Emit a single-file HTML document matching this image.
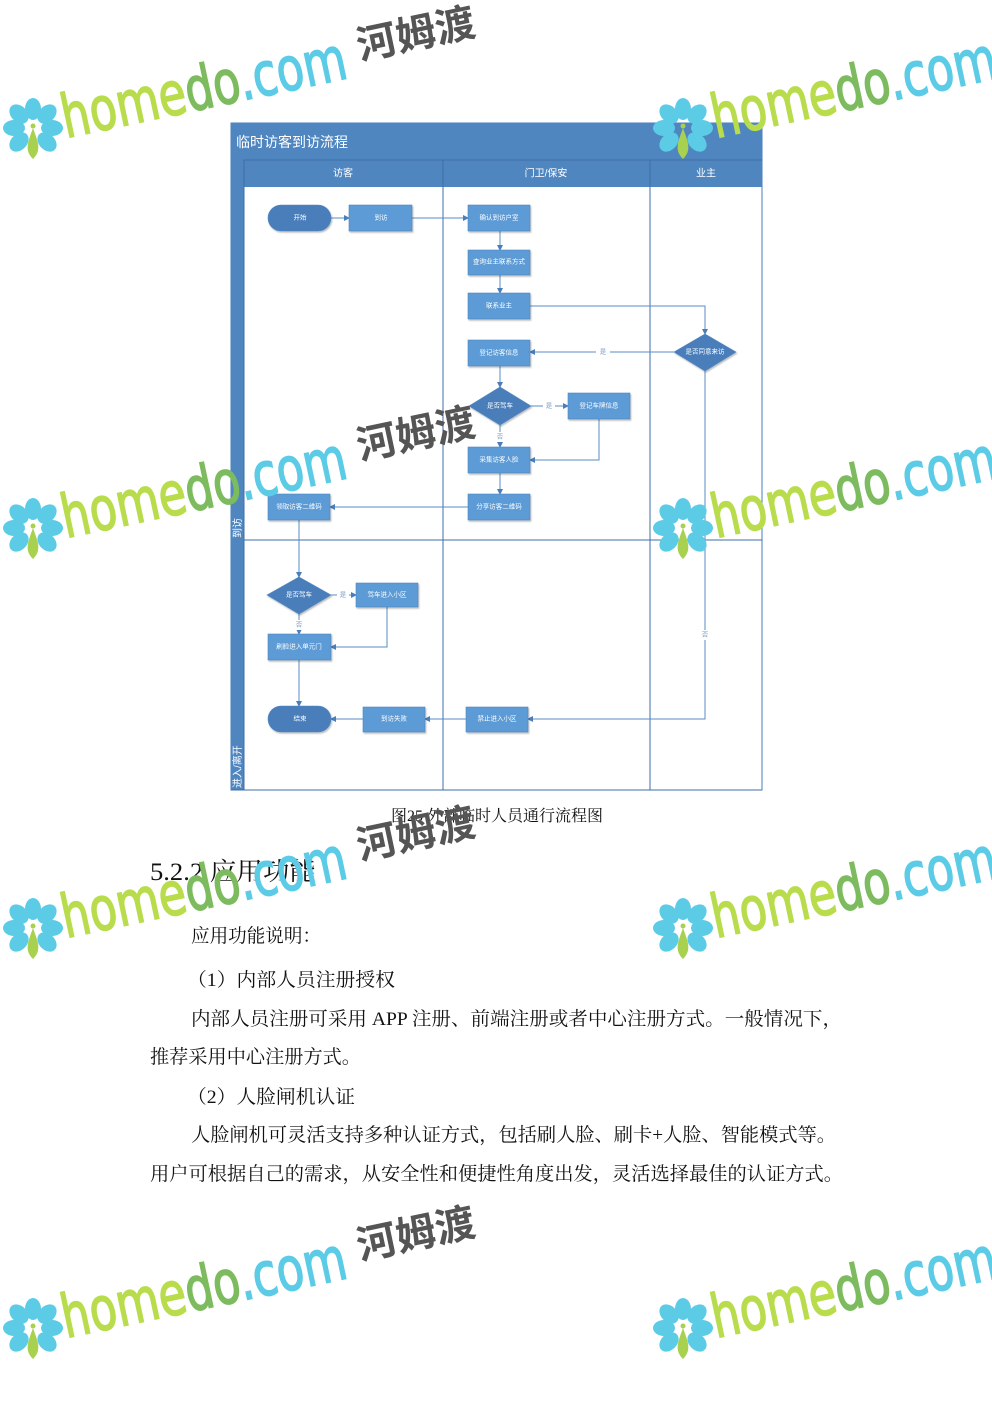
<!DOCTYPE html>
<html><head><meta charset="utf-8"><style>
html,body{margin:0;padding:0;background:#fff;}
svg{display:block}
.n{fill:#5b9bd5;stroke:#4f86c0;stroke-width:0.6}
.nt{fill:#fff;font-size:6.5px;font-family:"Liberation Sans","Noto Sans CJK SC",sans-serif;text-anchor:middle;dominant-baseline:central}
.c{fill:none;stroke:#5a8ec6;stroke-width:1}
.lb{fill:#7a9cc6;font-size:6.5px;font-family:"Liberation Sans","Noto Sans CJK SC",sans-serif;text-anchor:middle;dominant-baseline:central}
.p{font-family:"Liberation Serif","Noto Serif CJK SC",serif;font-size:19px;fill:#111}
.w1{fill:#b8dc4c;stroke:#b8dc4c;stroke-width:1.6}
.w2{fill:#7cbb5e;stroke:#7cbb5e;stroke-width:1.6}
.w3{fill:#5ccbe6;stroke:#5ccbe6;stroke-width:1.6}
</style></head><body>
<svg width="992" height="1403" viewBox="0 0 992 1403" xmlns="http://www.w3.org/2000/svg">
<defs>
<marker id="a" markerWidth="6" markerHeight="6" refX="5" refY="3" orient="auto" markerUnits="userSpaceOnUse"><path d="M0,0 L6,3 L0,6 z" fill="#4a7ebb"/></marker>
<filter id="sh" x="-10%" y="-10%" width="130%" height="140%"><feDropShadow dx="1" dy="1.5" stdDeviation="0.8" flood-color="#000" flood-opacity="0.25"/></filter>
</defs>

<rect x="231" y="123" width="531" height="667" fill="#fff" stroke="#4a7ebb" stroke-width="1"/>
<rect x="231" y="123" width="531" height="37" fill="#4f86c0"/>
<text x="236" y="147" font-family="Liberation Sans,'Noto Sans CJK SC',sans-serif" font-size="14" fill="#fff">临时访客到访流程</text>
<rect x="231" y="160" width="13" height="630" fill="#4f86c0"/>
<rect x="244" y="160" width="518" height="27" fill="#4f86c0"/>
<line x1="244" y1="160" x2="762" y2="160" stroke="#3f6fa5"/>
<line x1="244" y1="160" x2="244" y2="790" stroke="#3f6fa5"/>
<line x1="443" y1="160" x2="443" y2="790" stroke="#3f6fa5"/>
<line x1="650" y1="160" x2="650" y2="790" stroke="#3f6fa5"/>
<line x1="244" y1="540" x2="762" y2="540" stroke="#3f6fa5"/>
<line x1="231" y1="790" x2="762" y2="790" stroke="#3f6fa5"/>
<text x="343" y="174" class="nt" style="font-size:10px">访客</text>
<text x="546" y="174" class="nt" style="font-size:10px">门卫/保安</text>
<text x="706" y="174" class="nt" style="font-size:10px">业主</text>
<text transform="translate(241,538) rotate(-90)" font-size="10" fill="#fff" font-family="Liberation Sans,'Noto Sans CJK SC',sans-serif">到访</text>
<text transform="translate(241,788) rotate(-90)" font-size="10" fill="#fff" font-family="Liberation Sans,'Noto Sans CJK SC',sans-serif">进入/离开</text>

<g>
<path class="c" d="M331,218 H349" marker-end="url(#a)"/>
<path class="c" d="M412,218 H468" marker-end="url(#a)"/>
<path class="c" d="M500,231 V250" marker-end="url(#a)"/>
<path class="c" d="M500,275 V293" marker-end="url(#a)"/>
<path class="c" d="M530,306 H705 V334" marker-end="url(#a)"/>
<path class="c" d="M674,352 H530" marker-end="url(#a)"/>
<path class="c" d="M500,366 V387" marker-end="url(#a)"/>
<path class="c" d="M531,406 H568" marker-end="url(#a)"/>
<path class="c" d="M500,425 V447" marker-end="url(#a)"/>
<path class="c" d="M599,419 V460 H530" marker-end="url(#a)"/>
<path class="c" d="M500,473 V494" marker-end="url(#a)"/>
<path class="c" d="M468,507 H330" marker-end="url(#a)"/>
<path class="c" d="M299,520 V577" marker-end="url(#a)"/>
<path class="c" d="M331,595 H356" marker-end="url(#a)"/>
<path class="c" d="M299,614 V634" marker-end="url(#a)"/>
<path class="c" d="M387,607 V647 H331" marker-end="url(#a)"/>
<path class="c" d="M299,660 V706" marker-end="url(#a)"/>
<path class="c" d="M705,371 V719 H528" marker-end="url(#a)"/>
<path class="c" d="M466,719 H425" marker-end="url(#a)"/>
<path class="c" d="M363,719 H331" marker-end="url(#a)"/>
</g>
<g>
<rect x="596" y="347" width="14" height="10" fill="#fff"/><text x="603" y="352" class="lb">是</text>
<rect x="543" y="401" width="12" height="10" fill="#fff"/><text x="549" y="406" class="lb">是</text>
<rect x="494" y="432" width="12" height="10" fill="#fff"/><text x="500" y="437" class="lb">否</text>
<rect x="337" y="590" width="12" height="10" fill="#fff"/><text x="343" y="595" class="lb">是</text>
<rect x="293" y="620" width="12" height="10" fill="#fff"/><text x="299" y="625" class="lb">否</text>
<rect x="699" y="630" width="12" height="10" fill="#fff"/><text x="705" y="635" class="lb">否</text>
</g>

<g filter="url(#sh)">
<rect class="n" x="268" y="205" width="63" height="26" rx="13" style="fill:#4a7ebb"/>
<rect class="n" x="349" y="205" width="63" height="26"/>
<rect class="n" x="468" y="205" width="62" height="26"/>
<rect class="n" x="468" y="250" width="62" height="25"/>
<rect class="n" x="468" y="293" width="62" height="26"/>
<rect class="n" x="468" y="340" width="62" height="26"/>
<polygon class="n" points="500,387 531,406 500,425 469,406" style="fill:#4a7ebb"/>
<rect class="n" x="568" y="393" width="62" height="26"/>
<rect class="n" x="468" y="447" width="62" height="26"/>
<rect class="n" x="468" y="494" width="62" height="26"/>
<rect class="n" x="268" y="494" width="62" height="26"/>
<polygon class="n" points="705,334 736,352 705,371 674,352" style="fill:#4a7ebb"/>
<polygon class="n" points="299,577 331,595 299,614 267,595" style="fill:#4a7ebb"/>
<rect class="n" x="356" y="583" width="62" height="24"/>
<rect class="n" x="268" y="634" width="63" height="26"/>
<rect class="n" x="268" y="706" width="63" height="26" rx="13" style="fill:#4a7ebb"/>
<rect class="n" x="363" y="707" width="62" height="25"/>
<rect class="n" x="466" y="707" width="62" height="25"/>
</g>
<text x="300" y="218" class="nt">开始</text>
<text x="381" y="218" class="nt">到访</text>
<text x="499" y="218" class="nt">确认到访户室</text>
<text x="499" y="262" class="nt">查询业主联系方式</text>
<text x="499" y="306" class="nt">联系业主</text>
<text x="499" y="353" class="nt">登记访客信息</text>
<text x="500" y="406" class="nt">是否驾车</text>
<text x="599" y="406" class="nt">登记车牌信息</text>
<text x="499" y="460" class="nt">采集访客人脸</text>
<text x="499" y="507" class="nt">分享访客二维码</text>
<text x="299" y="507" class="nt">领取访客二维码</text>
<text x="705" y="352" class="nt">是否同意来访</text>
<text x="299" y="595" class="nt">是否驾车</text>
<text x="387" y="595" class="nt">驾车进入小区</text>
<text x="299" y="647" class="nt">刷脸进入单元门</text>
<text x="300" y="719" class="nt">结束</text>
<text x="394" y="719" class="nt">到访失败</text>
<text x="497" y="719" class="nt">禁止进入小区</text>

<text x="497" y="821" class="p" style="font-size:16px" text-anchor="middle">图25 外部临时人员通行流程图</text>
<text x="150" y="880" class="p" style="font-size:25px" textLength="166" lengthAdjust="spacingAndGlyphs">5.2.2 应用功能</text>
<text x="191" y="942" class="p" textLength="130" lengthAdjust="spacingAndGlyphs">应用功能说明：</text>
<text x="187" y="986" class="p" textLength="208" lengthAdjust="spacingAndGlyphs">（1）内部人员注册授权</text>
<text x="191" y="1025" class="p" textLength="651" lengthAdjust="spacingAndGlyphs">内部人员注册可采用 APP 注册、前端注册或者中心注册方式。一般情况下，</text>
<text x="150" y="1063" class="p" textLength="211" lengthAdjust="spacingAndGlyphs">推荐采用中心注册方式。</text>
<text x="187" y="1103" class="p" textLength="168" lengthAdjust="spacingAndGlyphs">（2）人脸闸机认证</text>
<text x="191" y="1141" class="p" textLength="645" lengthAdjust="spacingAndGlyphs">人脸闸机可灵活支持多种认证方式，包括刷人脸、刷卡+人脸、智能模式等。</text>
<text x="150" y="1180" class="p" textLength="693" lengthAdjust="spacingAndGlyphs">用户可根据自己的需求，从安全性和便捷性角度出发，灵活选择最佳的认证方式。</text>

<g transform="translate(0,0)"><g fill="#5ccbe6"><ellipse cx="33" cy="109" rx="8" ry="11"/><ellipse cx="47" cy="114" rx="8" ry="11" transform="rotate(45 47 114)"/><ellipse cx="52" cy="128" rx="11" ry="8"/><ellipse cx="47" cy="142" rx="8" ry="11" transform="rotate(-45 47 142)"/><ellipse cx="19" cy="142" rx="8" ry="11" transform="rotate(45 19 142)"/><ellipse cx="14" cy="128" rx="11" ry="8"/><ellipse cx="19" cy="114" rx="8" ry="11" transform="rotate(-45 19 114)"/></g><path d="M33,128 C28,142 24,150 33,159 C42,150 38,142 33,128z" fill="#a8d14f"/><circle cx="33" cy="126" r="2.5" fill="#a8d14f"/><text x="66" y="138" transform="rotate(-12 66 138)" font-family="DejaVu Sans,sans-serif" font-size="60" textLength="290" lengthAdjust="spacingAndGlyphs"><tspan class="w1">home</tspan><tspan class="w2">do</tspan><tspan class="w3">.com</tspan></text><text x="360" y="60" transform="rotate(-12 360 60)" font-family="'Noto Sans CJK SC',sans-serif" font-weight="bold" font-size="40" fill="#555">河姆渡</text></g>
<g transform="translate(0,400)"><g fill="#5ccbe6"><ellipse cx="33" cy="109" rx="8" ry="11"/><ellipse cx="47" cy="114" rx="8" ry="11" transform="rotate(45 47 114)"/><ellipse cx="52" cy="128" rx="11" ry="8"/><ellipse cx="47" cy="142" rx="8" ry="11" transform="rotate(-45 47 142)"/><ellipse cx="19" cy="142" rx="8" ry="11" transform="rotate(45 19 142)"/><ellipse cx="14" cy="128" rx="11" ry="8"/><ellipse cx="19" cy="114" rx="8" ry="11" transform="rotate(-45 19 114)"/></g><path d="M33,128 C28,142 24,150 33,159 C42,150 38,142 33,128z" fill="#a8d14f"/><circle cx="33" cy="126" r="2.5" fill="#a8d14f"/><text x="66" y="138" transform="rotate(-12 66 138)" font-family="DejaVu Sans,sans-serif" font-size="60" textLength="290" lengthAdjust="spacingAndGlyphs"><tspan class="w1">home</tspan><tspan class="w2">do</tspan><tspan class="w3">.com</tspan></text><text x="360" y="60" transform="rotate(-12 360 60)" font-family="'Noto Sans CJK SC',sans-serif" font-weight="bold" font-size="40" fill="#555">河姆渡</text></g>
<g transform="translate(0,800)"><g fill="#5ccbe6"><ellipse cx="33" cy="109" rx="8" ry="11"/><ellipse cx="47" cy="114" rx="8" ry="11" transform="rotate(45 47 114)"/><ellipse cx="52" cy="128" rx="11" ry="8"/><ellipse cx="47" cy="142" rx="8" ry="11" transform="rotate(-45 47 142)"/><ellipse cx="19" cy="142" rx="8" ry="11" transform="rotate(45 19 142)"/><ellipse cx="14" cy="128" rx="11" ry="8"/><ellipse cx="19" cy="114" rx="8" ry="11" transform="rotate(-45 19 114)"/></g><path d="M33,128 C28,142 24,150 33,159 C42,150 38,142 33,128z" fill="#a8d14f"/><circle cx="33" cy="126" r="2.5" fill="#a8d14f"/><text x="66" y="138" transform="rotate(-12 66 138)" font-family="DejaVu Sans,sans-serif" font-size="60" textLength="290" lengthAdjust="spacingAndGlyphs"><tspan class="w1">home</tspan><tspan class="w2">do</tspan><tspan class="w3">.com</tspan></text><text x="360" y="60" transform="rotate(-12 360 60)" font-family="'Noto Sans CJK SC',sans-serif" font-weight="bold" font-size="40" fill="#555">河姆渡</text></g>
<g transform="translate(0,1200)"><g fill="#5ccbe6"><ellipse cx="33" cy="109" rx="8" ry="11"/><ellipse cx="47" cy="114" rx="8" ry="11" transform="rotate(45 47 114)"/><ellipse cx="52" cy="128" rx="11" ry="8"/><ellipse cx="47" cy="142" rx="8" ry="11" transform="rotate(-45 47 142)"/><ellipse cx="19" cy="142" rx="8" ry="11" transform="rotate(45 19 142)"/><ellipse cx="14" cy="128" rx="11" ry="8"/><ellipse cx="19" cy="114" rx="8" ry="11" transform="rotate(-45 19 114)"/></g><path d="M33,128 C28,142 24,150 33,159 C42,150 38,142 33,128z" fill="#a8d14f"/><circle cx="33" cy="126" r="2.5" fill="#a8d14f"/><text x="66" y="138" transform="rotate(-12 66 138)" font-family="DejaVu Sans,sans-serif" font-size="60" textLength="290" lengthAdjust="spacingAndGlyphs"><tspan class="w1">home</tspan><tspan class="w2">do</tspan><tspan class="w3">.com</tspan></text><text x="360" y="60" transform="rotate(-12 360 60)" font-family="'Noto Sans CJK SC',sans-serif" font-weight="bold" font-size="40" fill="#555">河姆渡</text></g>
<g transform="translate(650,0)"><g fill="#5ccbe6"><ellipse cx="33" cy="109" rx="8" ry="11"/><ellipse cx="47" cy="114" rx="8" ry="11" transform="rotate(45 47 114)"/><ellipse cx="52" cy="128" rx="11" ry="8"/><ellipse cx="47" cy="142" rx="8" ry="11" transform="rotate(-45 47 142)"/><ellipse cx="19" cy="142" rx="8" ry="11" transform="rotate(45 19 142)"/><ellipse cx="14" cy="128" rx="11" ry="8"/><ellipse cx="19" cy="114" rx="8" ry="11" transform="rotate(-45 19 114)"/></g><path d="M33,128 C28,142 24,150 33,159 C42,150 38,142 33,128z" fill="#a8d14f"/><circle cx="33" cy="126" r="2.5" fill="#a8d14f"/><text x="66" y="138" transform="rotate(-12 66 138)" font-family="DejaVu Sans,sans-serif" font-size="60" textLength="290" lengthAdjust="spacingAndGlyphs"><tspan class="w1">home</tspan><tspan class="w2">do</tspan><tspan class="w3">.com</tspan></text></g>
<g transform="translate(650,400)"><g fill="#5ccbe6"><ellipse cx="33" cy="109" rx="8" ry="11"/><ellipse cx="47" cy="114" rx="8" ry="11" transform="rotate(45 47 114)"/><ellipse cx="52" cy="128" rx="11" ry="8"/><ellipse cx="47" cy="142" rx="8" ry="11" transform="rotate(-45 47 142)"/><ellipse cx="19" cy="142" rx="8" ry="11" transform="rotate(45 19 142)"/><ellipse cx="14" cy="128" rx="11" ry="8"/><ellipse cx="19" cy="114" rx="8" ry="11" transform="rotate(-45 19 114)"/></g><path d="M33,128 C28,142 24,150 33,159 C42,150 38,142 33,128z" fill="#a8d14f"/><circle cx="33" cy="126" r="2.5" fill="#a8d14f"/><text x="66" y="138" transform="rotate(-12 66 138)" font-family="DejaVu Sans,sans-serif" font-size="60" textLength="290" lengthAdjust="spacingAndGlyphs"><tspan class="w1">home</tspan><tspan class="w2">do</tspan><tspan class="w3">.com</tspan></text></g>
<g transform="translate(650,800)"><g fill="#5ccbe6"><ellipse cx="33" cy="109" rx="8" ry="11"/><ellipse cx="47" cy="114" rx="8" ry="11" transform="rotate(45 47 114)"/><ellipse cx="52" cy="128" rx="11" ry="8"/><ellipse cx="47" cy="142" rx="8" ry="11" transform="rotate(-45 47 142)"/><ellipse cx="19" cy="142" rx="8" ry="11" transform="rotate(45 19 142)"/><ellipse cx="14" cy="128" rx="11" ry="8"/><ellipse cx="19" cy="114" rx="8" ry="11" transform="rotate(-45 19 114)"/></g><path d="M33,128 C28,142 24,150 33,159 C42,150 38,142 33,128z" fill="#a8d14f"/><circle cx="33" cy="126" r="2.5" fill="#a8d14f"/><text x="66" y="138" transform="rotate(-12 66 138)" font-family="DejaVu Sans,sans-serif" font-size="60" textLength="290" lengthAdjust="spacingAndGlyphs"><tspan class="w1">home</tspan><tspan class="w2">do</tspan><tspan class="w3">.com</tspan></text></g>
<g transform="translate(650,1200)"><g fill="#5ccbe6"><ellipse cx="33" cy="109" rx="8" ry="11"/><ellipse cx="47" cy="114" rx="8" ry="11" transform="rotate(45 47 114)"/><ellipse cx="52" cy="128" rx="11" ry="8"/><ellipse cx="47" cy="142" rx="8" ry="11" transform="rotate(-45 47 142)"/><ellipse cx="19" cy="142" rx="8" ry="11" transform="rotate(45 19 142)"/><ellipse cx="14" cy="128" rx="11" ry="8"/><ellipse cx="19" cy="114" rx="8" ry="11" transform="rotate(-45 19 114)"/></g><path d="M33,128 C28,142 24,150 33,159 C42,150 38,142 33,128z" fill="#a8d14f"/><circle cx="33" cy="126" r="2.5" fill="#a8d14f"/><text x="66" y="138" transform="rotate(-12 66 138)" font-family="DejaVu Sans,sans-serif" font-size="60" textLength="290" lengthAdjust="spacingAndGlyphs"><tspan class="w1">home</tspan><tspan class="w2">do</tspan><tspan class="w3">.com</tspan></text></g>
</svg>
</body></html>
